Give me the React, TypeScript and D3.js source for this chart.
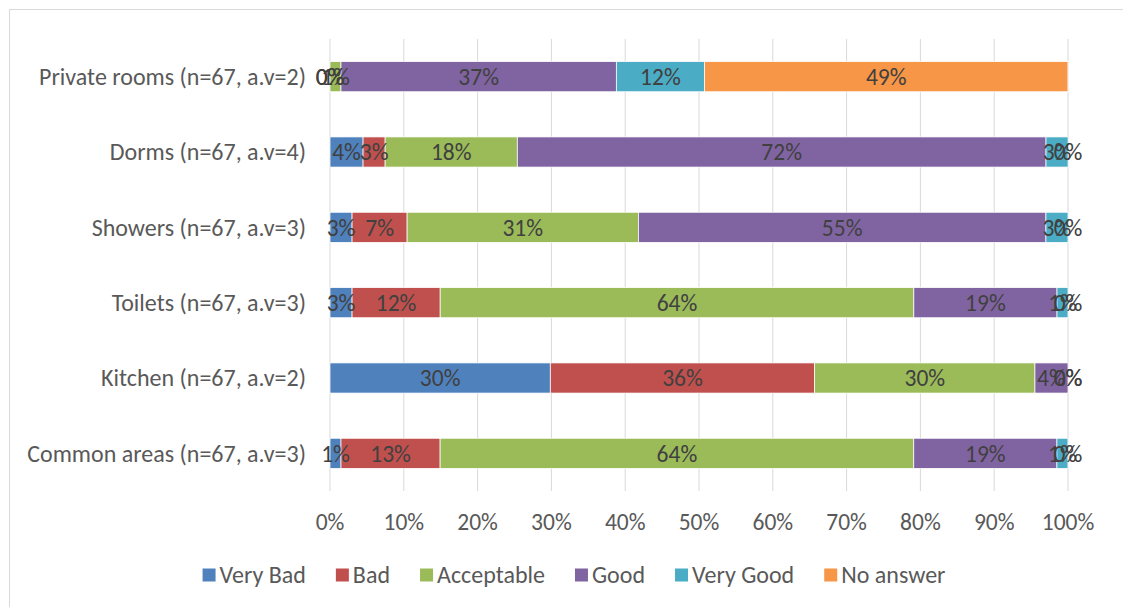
import React, { useEffect, useRef } from "react";
import * as d3 from "d3";

const categories = [
  "Private rooms (n=67, a.v=2)",
  "Dorms (n=67, a.v=4)",
  "Showers (n=67, a.v=3)",
  "Toilets (n=67, a.v=3)",
  "Kitchen (n=67, a.v=2)",
  "Common areas (n=67, a.v=3)",
];
const seriesNames = ["Very Bad", "Bad", "Acceptable", "Good", "Very Good", "No answer"];
const colors = ["#4F81BD", "#C0504D", "#9BBB59", "#8064A2", "#4BACC6", "#F79646"];

// percentages per category, in series order
const veryBad = [0, 4.48, 2.99, 2.99, 29.85, 1.49];
const bad = [0, 2.99, 7.46, 11.94, 35.82, 13.43];
const acceptable = [1.49, 17.91, 31.34, 64.18, 29.85, 64.18];
const good = [37.31, 71.64, 55.22, 19.4, 4.48, 19.4];
const veryGood = [11.94, 2.99, 2.99, 1.49, 0, 1.49];
const noAnswer = [49.25, 0, 0, 0, 0, 0];

const seriesValues = [veryBad, bad, acceptable, good, veryGood, noAnswer];
const xTicks = [0, 10, 20, 30, 40, 50, 60, 70, 80, 90, 100];

const FONT = "Carlito, Calibri, Lato, 'Open Sans', sans-serif";
const FS = 24;

export default function App() {
  const ref = useRef<SVGSVGElement | null>(null);
  useEffect(() => {
    const svg = d3.select(ref.current);
    svg.selectAll("*").remove();
    const W = 1123, H = 607;
    const x = d3.scaleLinear().domain([0, 100]).range([330, 1068]);
    const y = d3.scaleBand<string>().domain(categories).range([39, 491]).paddingInner(0.6).paddingOuter(0.3);

    svg.append("rect").attr("x", 9.5).attr("y", 9.5).attr("width", W).attr("height", H)
      .attr("fill", "#fff").attr("stroke", "#D9D9D9").attr("stroke-width", 1);

    // gridlines
    svg.append("g").selectAll("line").data(xTicks).join("line")
      .attr("x1", (d) => x(d)).attr("x2", (d) => x(d))
      .attr("y1", 39).attr("y2", 491)
      .attr("stroke", "#D9D9D9").attr("stroke-width", 1);

    // x tick labels
    svg.append("g").selectAll("text").data(xTicks).join("text")
      .attr("x", (d) => x(d)).attr("y", 522)
      .attr("dy", "0.35em")
      .attr("text-anchor", "middle")
      .attr("font-family", FONT).attr("font-size", 23.5).attr("fill", "#595959")
      .text((d) => d + "%");

    // category labels
    svg.append("g").selectAll("text").data(categories).join("text")
      .attr("x", 306).attr("y", (d) => (y(d) as number) + y.bandwidth() / 2)
      .attr("dy", "0.35em")
      .attr("text-anchor", "end")
      .attr("font-family", FONT).attr("font-size", FS).attr("fill", "#595959")
      .text((d) => d);

    // stacked bars
    const barG = svg.append("g");
    const labelG = svg.append("g");
    categories.forEach((c, ci) => {
      let cum = 0;
      seriesValues.forEach((vals, si) => {
        const v = vals[ci];
        const x0 = x(cum), x1 = x(cum + v);
        if (v > 0) {
          barG.append("rect")
            .attr("x", x0).attr("width", x1 - x0)
            .attr("y", y(c) as number).attr("height", y.bandwidth())
            .attr("fill", colors[si])
            .attr("stroke", "#fff").attr("stroke-width", 0.75);
        }
        labelG.append("text")
          .attr("x", (x0 + x1) / 2)
          .attr("y", (y(c) as number) + y.bandwidth() / 2)
          .attr("dy", "0.35em")
          .attr("text-anchor", "middle")
          .attr("font-family", FONT).attr("font-size", 23.5).attr("fill", "#404040")
          .text(Math.round(v) + "%");
        cum += v;
      });
    });

    // legend
    const lg = svg.append("g");
    const items = seriesNames.map((n, i) => {
      const g = lg.append("g");
      g.append("rect").attr("x", 0).attr("y", -6.5).attr("width", 13).attr("height", 13).attr("fill", colors[i]);
      const t = g.append("text").attr("x", 17).attr("y", 0).attr("dy", "0.35em")
        .attr("font-family", FONT).attr("font-size", FS).attr("fill", "#595959").text(n);
      const w = 17 + (t.node() as SVGTextElement).getComputedTextLength();
      return { g, w };
    });
    const gap = 30;
    const total = d3.sum(items, (d) => d.w) + gap * (items.length - 1);
    let lx = 574 - total / 2;
    items.forEach((it) => {
      it.g.attr("transform", `translate(${lx},575)`);
      lx += it.w + gap;
    });
  }, []);
  return (
    <svg ref={ref} width={1123} height={607} style={{ display: "block", position: "absolute", left: 0, top: 0 }} />
  );
}
